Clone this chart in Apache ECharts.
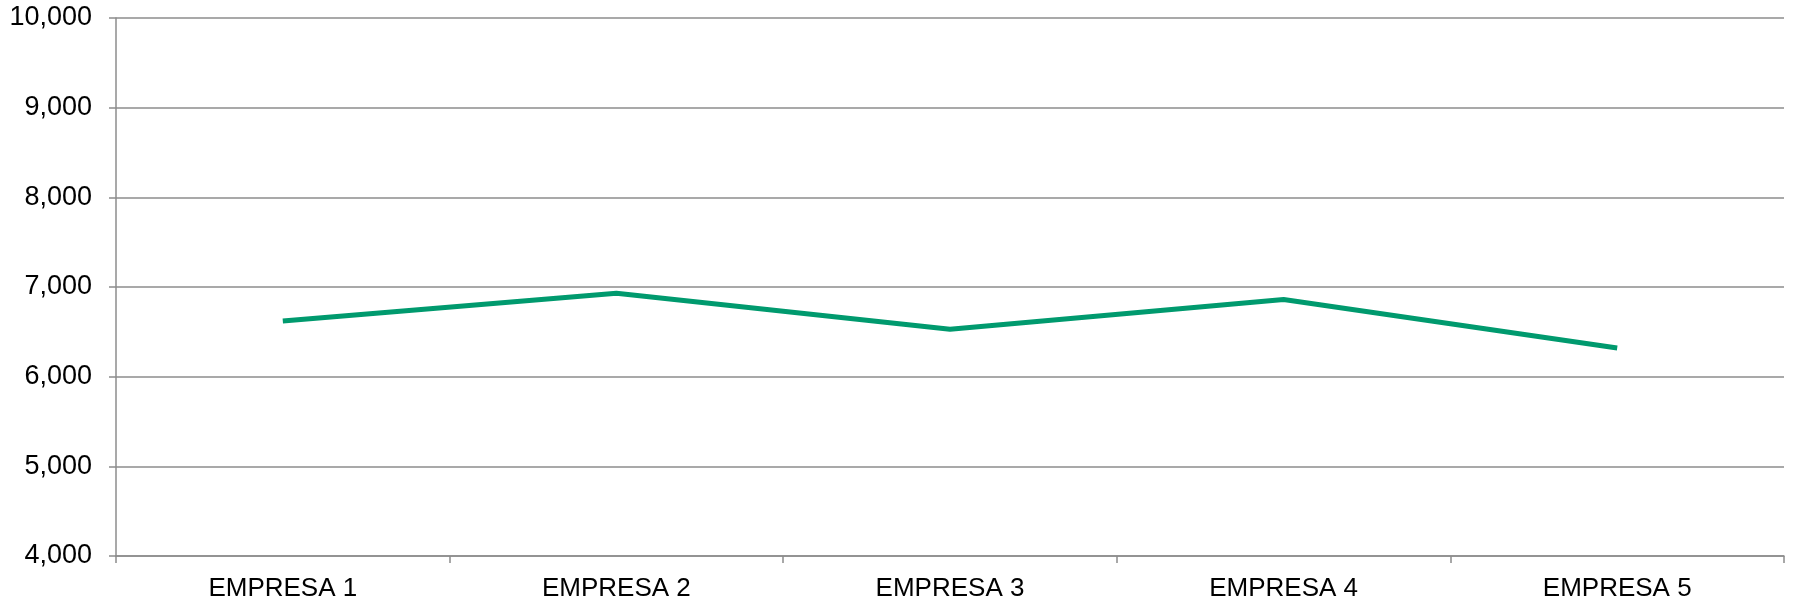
<!DOCTYPE html>
<html><head><meta charset="utf-8">
<script src="https://cdn.jsdelivr.net/npm/echarts@6/dist/echarts.min.js"></script>
<style>html,body{margin:0;padding:0;background:#fff}#c{width:1793px;height:602px}</style>
</head><body><div id="c"></div>
<script>
const categories = ['EMPRESA 1','EMPRESA 2','EMPRESA 3','EMPRESA 4','EMPRESA 5'];
const values = [6620, 6930, 6530, 6860, 6320];
const yMin = 4000, yMax = 10000, yStep = 1000;

const chart = echarts.init(document.getElementById('c'));
chart.setOption({
  animation: false,
  grid: {left: 116, right: 9, top: 18, bottom: 46, containLabel: false},
  xAxis: {
    type: 'category', data: categories, boundaryGap: true,
    axisLine: {lineStyle: {color: '#8c8c8c', width: 1.5}},
    axisTick: {show: true, length: 7, alignWithLabel: false, lineStyle: {color: '#8c8c8c', width: 1.5}},
    axisLabel: {color: '#000', fontFamily: 'Liberation Sans, Arial, sans-serif', fontSize: 26, margin: 20}
  },
  yAxis: {
    type: 'value', min: yMin, max: yMax, interval: yStep,
    axisLine: {show: true, lineStyle: {color: '#8c8c8c', width: 1.5}},
    axisTick: {show: true, length: 7, lineStyle: {color: '#8c8c8c', width: 1.5}},
    splitLine: {show: true, lineStyle: {color: '#8c8c8c', width: 1.5}},
    axisLabel: {color: '#000', fontFamily: 'Liberation Sans, Arial, sans-serif', fontSize: 27, margin: 24,
      formatter: v => v.toLocaleString('en-US')}
  },
  series: [{
    type: 'line', data: values, symbol: 'none',
    lineStyle: {color: '#009a6e', width: 5}
  }]
});
</script></body></html>
